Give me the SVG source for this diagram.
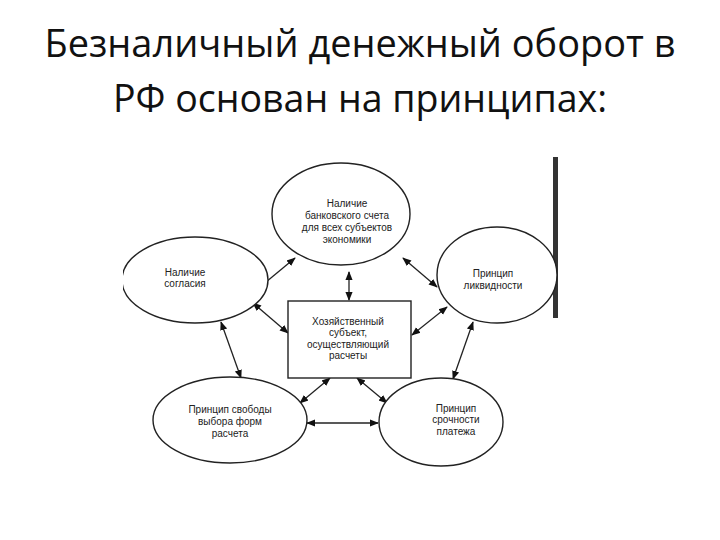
<svg xmlns="http://www.w3.org/2000/svg" width="720" height="540" viewBox="0 0 720 540">
<style>
.title{font-family:"Open Sans","Liberation Sans",sans-serif;font-size:38px;fill:#111;text-anchor:middle}
.shape{fill:#fff;stroke:#222;stroke-width:1.4}
.lbl{font-family:"Liberation Sans",Arial,sans-serif;font-size:10px;fill:#222;text-anchor:middle}
.conn line{stroke:#222;stroke-width:1.3;marker-start:url(#ah);marker-end:url(#ah)}
</style>
<defs>
<marker id="ah" viewBox="0 0 10 10" refX="9" refY="5" markerWidth="9" markerHeight="9" markerUnits="userSpaceOnUse" orient="auto-start-reverse">
<path d="M0,1 L10,5 L0,9 z" fill="#111"/>
</marker>
<clipPath id="clipL"><rect x="123" y="0" width="600" height="540"/></clipPath>
</defs>
<rect width="720" height="540" fill="#fff"/>
<text class="title" x="360" y="57" textLength="631" lengthAdjust="spacingAndGlyphs">Безналичный денежный оборот в</text>
<text class="title" x="360" y="112" textLength="494" lengthAdjust="spacingAndGlyphs">РФ основан на принципах:</text>

<rect x="553" y="157" width="5" height="161" fill="#333"/>

<g class="conn">
<line x1="295" y1="258" x2="260" y2="287"/>
<line x1="349" y1="272" x2="349" y2="300"/>
<line x1="403" y1="258" x2="437" y2="287"/>
<line x1="253" y1="303" x2="288" y2="333"/>
<line x1="447" y1="307" x2="412" y2="335"/>
<line x1="221" y1="322" x2="241" y2="378"/>
<line x1="473" y1="322" x2="453" y2="379"/>
<line x1="330" y1="378" x2="300" y2="403"/>
<line x1="357" y1="378" x2="387" y2="403"/>
<line x1="307" y1="423" x2="378" y2="423"/>
</g>

<g id="top">
<ellipse class="shape" cx="341" cy="214" rx="69" ry="51"/>
<text class="lbl" x="347" y="207">Наличие</text>
<text class="lbl" x="347" y="219">банковского счета</text>
<text class="lbl" x="347" y="231">для всех субъектов</text>
<text class="lbl" x="347" y="243">экономики</text>
</g>
<g id="left">
<ellipse class="shape" cx="195" cy="280" rx="73" ry="43" clip-path="url(#clipL)"/>
<text class="lbl" x="185" y="276">Наличие</text>
<text class="lbl" x="185" y="287">согласия</text>
</g>
<g id="right">
<ellipse class="shape" cx="497" cy="275" rx="60" ry="48"/>
<text class="lbl" x="493" y="277">Принцип</text>
<text class="lbl" x="493" y="289">ликвидности</text>
</g>
<g id="center">
<rect class="shape" x="288" y="301" width="123" height="77"/>
<text class="lbl" x="348" y="325">Хозяйственный</text>
<text class="lbl" x="348" y="336">субъект,</text>
<text class="lbl" x="348" y="348">осуществляющий</text>
<text class="lbl" x="348" y="359">расчеты</text>
</g>
<g id="bottomleft">
<ellipse class="shape" cx="230" cy="420" rx="77" ry="43"/>
<text class="lbl" x="230" y="413">Принцип свободы</text>
<text class="lbl" x="230" y="425">выбора форм</text>
<text class="lbl" x="230" y="437">расчета</text>
</g>
<g id="bottomright">
<ellipse class="shape" cx="441" cy="422" rx="62" ry="44"/>
<text class="lbl" x="456" y="412">Принцип</text>
<text class="lbl" x="456" y="423">срочности</text>
<text class="lbl" x="456" y="435">платежа</text>
</g>
</svg>
